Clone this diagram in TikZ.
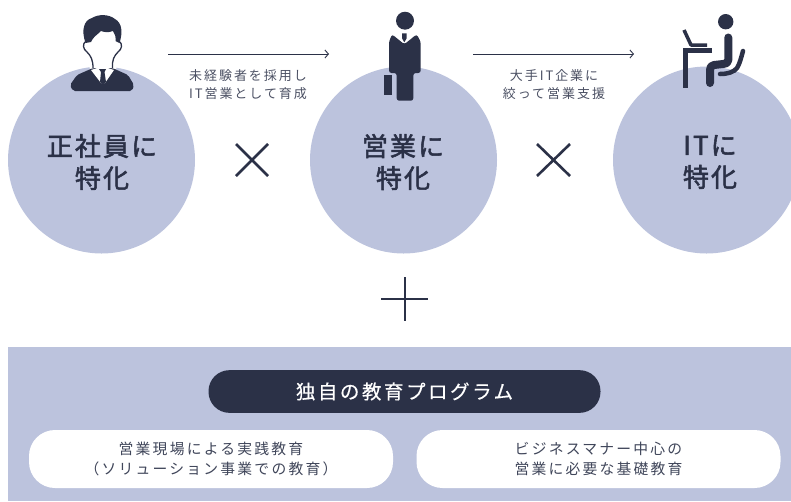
\documentclass[tikz,border=0pt]{standalone}
\usepackage{fontspec}
\usepackage{tikz}
\usetikzlibrary{arrows.meta}
\setmainfont{Noto Sans CJK JP}
\newfontfamily\bigfont[LetterSpace=8,FakeBold=2]{Noto Sans CJK JP}
\newfontfamily\titlefont[LetterSpace=13,FakeBold=0.4]{Noto Sans CJK JP}
\newfontfamily\smallfont[LetterSpace=15]{Noto Sans CJK JP}
\newfontfamily\pillfont[LetterSpace=15]{Noto Sans CJK JP}
\definecolor{navy}{HTML}{2B3147}
\definecolor{lilac}{HTML}{BCC3DD}
\tikzset{
  blob/.style={circle,fill=lilac,minimum size=187pt,inner sep=0pt},
  bigtext/.style={text=navy,align=center,font=\bigfont\fontsize{26}{32}\selectfont},
  smalltext/.style={text=navy!85,align=center,font=\smallfont\fontsize{13}{18}\selectfont},
  pilltext/.style={text=navy!90,align=center,font=\pillfont\fontsize{14.8}{20}\selectfont},
  whitepill/.style={fill=white,rounded corners=26pt,minimum width=364pt,minimum height=58pt,inner sep=0pt},
  timesline/.style={navy,line width=2.6pt},
  arrowline/.style={navy,line width=0.9pt,-{Straight Barb[length=3.5pt,width=8pt]}}
}
\begin{document}
\begin{tikzpicture}[x=1pt,y=-1pt]
\useasboundingbox (0,0) rectangle (791,501);
\clip (0,0) rectangle (791,501);
%circles
\node[blob] (staff) at (101.5,160) {};
\node[blob] (sales) at (403.5,160) {};
\node[blob] (tech) at (706.5,160) {};
\node[bigtext] (stafflabel) at (102,162) {正社員に\\特化};
\node[bigtext] (saleslabel) at (403,162) {営業に\\特化};
\node[bigtext] (techlabel) at (710,162) {ITに\\特化};
%arrows
\coordinate (arrowa) at (168,54);
\coordinate (arrowb) at (329,54);
\coordinate (arrowc) at (473,54);
\coordinate (arrowd) at (634,54);
\draw[arrowline] (arrowa) -- (arrowb);
\draw[arrowline] (arrowc) -- (arrowd);
\node[smalltext] (hirenote) at (248,85) {未経験者を採用し\\IT営業として育成};
\node[smalltext] (focusnote) at (554,85) {大手IT企業に\\絞って営業支援};
%times and plus
\draw[timesline] (236,144) -- (268,176);
\draw[timesline] (236,176) -- (268,144);
\draw[timesline] (537,144) -- (570,176);
\draw[timesline] (537,176) -- (570,144);
\draw[timesline] (381,299) -- (428,299);
\draw[timesline] (405,277) -- (405,321);
%person with tie
\fill[white] (85,40) -- (121,40) -- (116,70) -- (90,70) -- cycle;
\fill[navy] (85.5,43) .. controls (81,30) and (84,20) .. (92,18) .. controls (98,14) and (109,14) .. (115,19) .. controls (122,23) and (123,32) .. (119.5,43) -- (115.5,41) .. controls (116,37) and (115,34) .. (113,31) .. controls (108,33) and (104,32) .. (101,31) .. controls (97,35) and (93,37) .. (91,42) -- cycle;
\draw[navy,line width=1.3pt] (86,41) .. controls (82,44) and (83,49) .. (87,52) .. controls (91,56) and (93,60) .. (93,68);
\draw[navy,line width=1.3pt] (119,41) .. controls (123,44) and (122,49) .. (118,52) .. controls (114,56) and (112,60) .. (112.5,68);
\fill[navy,rounded corners=2pt] (93,68) -- (77,75) -- (70,85) -- (73,91) -- (132,91) -- (134,85) -- (128,75) -- (112.5,68) -- cycle;
\fill[white] (91,70) -- (101,83) -- (105,83) -- (114,70) -- (108,68) -- (97,68) -- cycle;
\fill[navy] (99,69) -- (106,69) -- (104.5,72) -- (106,82) -- (103,84) -- (100,82) -- (101,72) -- cycle;
%person with case
\fill[navy] (405,20.7) circle (9);
\fill[navy,rounded corners=2.5pt] (392,34.3) -- (404.3,44.3) -- (416.7,34.3) -- (420.7,41.7) -- (420.7,73) -- (413.3,73) -- (413.3,100.7) -- (396.7,100.7) -- (396.7,73) -- (389,73) -- (389,41.7) -- cycle;
\fill[navy] (402,33.3) -- (406.7,33.3) -- (406.7,38.3) -- (404.3,42.3) -- (402,38.3) -- cycle;
\fill[navy] (384.3,75) rectangle (392.3,95);
%person at desk
\fill[navy] (725.7,21.7) circle (7.7);
\draw[navy,line width=8pt,line cap=round,line join=round] (728.3,37.5) -- (728.3,60) .. controls (728.3,63) and (726,64) .. (723,64) -- (714,65) .. controls (711,65.5) and (710,67) .. (710,70) -- (710,83);
\draw[navy,line width=4.5pt,line cap=round] (743,51) .. controls (741,58) and (740,63) .. (737,68) .. controls (734,72) and (728,74) .. (720,74);
\draw[navy,line width=5pt] (712,50.5) -- (685,50.5) -- (685,87.5);
\draw[navy,line width=3.5pt,line join=round] (684,30) -- (691,45) -- (707,45);
%band
\fill[lilac] (8,347) rectangle (791,501);
\node[fill=navy,rounded corners=21pt,minimum width=392pt,minimum height=42.7pt,inner sep=0pt,text=white,font=\titlefont\fontsize{19.5}{22}\selectfont] (program) at (404.5,391.5) {独自の教育プログラム};
\node[whitepill,pilltext] (practice) at (211,459) {営業現場による実践教育\\（ソリューション事業での教育）};
\node[whitepill,pilltext] (basics) at (598.5,459) {ビジネスマナー中心の\\営業に必要な基礎教育};
\end{tikzpicture}
\end{document}
